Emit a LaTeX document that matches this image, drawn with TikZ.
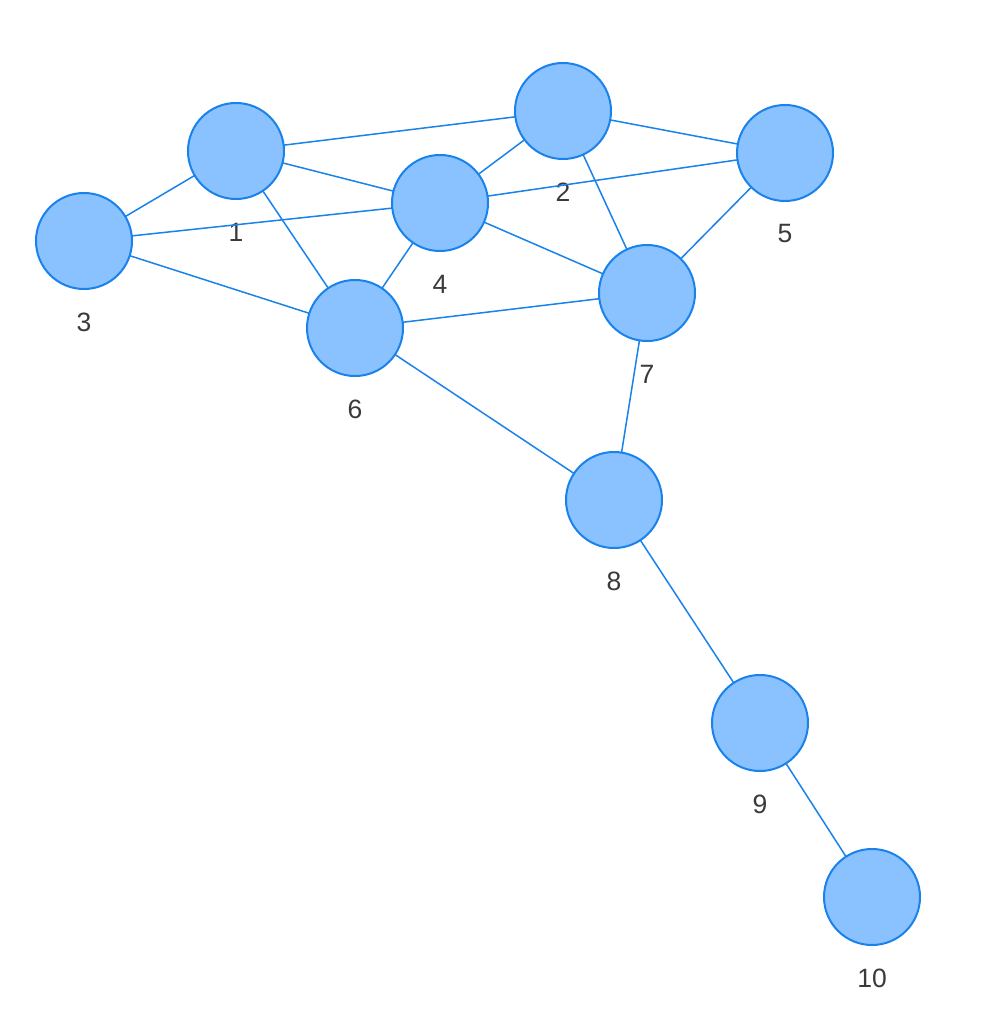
\documentclass[tikz,border=0pt]{standalone}
\usepackage{fontspec}
\setmainfont{Liberation Sans}
\definecolor{edgeblue}{HTML}{1A82EB}
\definecolor{nodefill}{HTML}{8AC1FF}
\definecolor{labelgray}{HTML}{3A3A3A}
\begin{document}
\begin{tikzpicture}[x=1pt,y=-1pt,
  vertex/.style={circle,draw=edgeblue,fill=nodefill,line width=2pt,minimum size=96pt,inner sep=0pt},
  edge/.style={draw=edgeblue,line width=1.5pt},
  lbl/.style={text=labelgray,font=\fontsize{26.5}{31}\selectfont,inner sep=0pt}]
\useasboundingbox (0,0) rectangle (997,1024);
\fill[white] (0,0) rectangle (997,1024);
\coordinate (p1) at (236,151);
\coordinate (p2) at (563,111);
\coordinate (p3) at (84,241);
\coordinate (p4) at (440,203);
\coordinate (p5) at (785,153);
\coordinate (p6) at (355,328);
\coordinate (p7) at (647,293);
\coordinate (p8) at (614,500);
\coordinate (p9) at (760,723);
\coordinate (p10) at (872,897);
\foreach \i in {1,...,10}
  \node[lbl] (l\i) at ([yshift=-81pt]p\i) {\i};
\foreach \a/\b in {1/2,1/3,1/4,1/6,2/4,2/5,2/7,3/4,3/6,4/5,4/6,4/7,5/7,6/7,6/8,7/8,8/9,9/10}
  \draw[edge] (p\a) -- (p\b);
\foreach \i in {1,...,10}
  \node[vertex] (n\i) at (p\i) {};
\end{tikzpicture}
\end{document}
